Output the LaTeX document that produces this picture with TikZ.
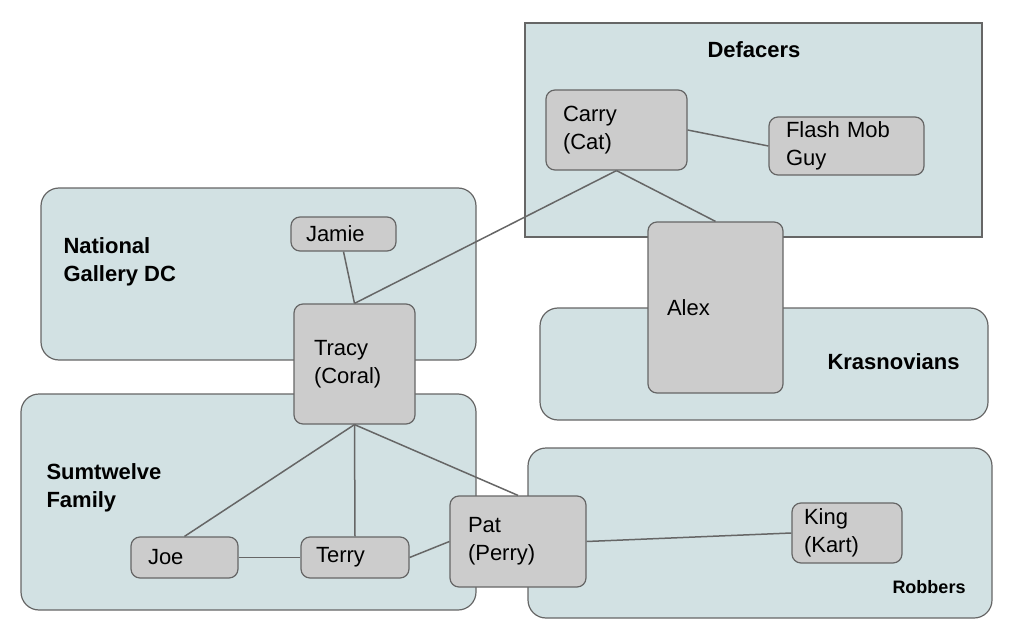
\documentclass[tikz,border=0pt]{standalone}
\usepackage{fontspec}
\setmainfont{Liberation Sans}
\begin{document}
\begin{tikzpicture}[x=1pt,y=-1pt,
  grp/.style={draw=black!60,fill={rgb,255:red,210;green,225;blue,227},line width=1.2pt,rounded corners=18pt},
  per/.style={draw=black!60,fill={rgb,255:red,204;green,204;blue,204},line width=1.2pt,rounded corners=9pt,
    align=left,inner ysep=0pt,font=\fontsize{22}{28}\selectfont},
  lab/.style={font=\fontsize{22}{28}\selectfont\bfseries,align=left},
  edge/.style={draw=black!60,line width=1.5pt}]
\useasboundingbox (0,0) rectangle (1021,642);
% groups
\node[grp,rounded corners=0pt,minimum width=457pt,minimum height=214pt,inner sep=0] (gdef) at (753.5,130) {};
\node[lab] (ldef) at (754,50) {Defacers};
\node[grp,minimum width=435pt,minimum height=172pt,inner sep=0] (gnat) at (258.5,274) {};
\node[lab,anchor=west] (lnat) at (60,262) {National\\Gallery DC};
\node[grp,minimum width=448pt,minimum height=112pt,inner sep=0] (gkra) at (764,364) {};
\node[lab,anchor=west] (lkra) at (824,362) {Krasnovians};
\node[grp,minimum width=455pt,minimum height=216pt,inner sep=0] (gsum) at (248.5,502) {};
\node[lab,anchor=west] (lsum) at (43,488) {Sumtwelve\\Family};
\node[grp,minimum width=464pt,minimum height=170pt,inner sep=0] (grob) at (760,533) {};
\node[font=\fontsize{18}{22}\selectfont\bfseries] (lrob) at (929,587) {Robbers};
% people
\node[per,text width=107pt,inner xsep=17pt,minimum height=80pt] (carry) at (616.5,130) {Carry\\(Cat)};
\node[per,text width=121pt,inner xsep=17pt,minimum height=58pt] (flash) at (846.5,146) {Flash Mob\\Guy};
\node[per,text width=75pt,inner xsep=15pt,minimum height=34pt] (jamie) at (343.5,234) {Jamie};
\node[per,text width=81pt,inner xsep=20pt,minimum height=120pt] (tracy) at (354.5,364) {Tracy\\(Coral)};
\node[per,text width=97pt,inner xsep=19pt,minimum height=171pt] (alex) at (715.5,307.5) {Alex};
\node[per,text width=73pt,inner xsep=17pt,minimum height=41pt] (joe) at (184.5,557.5) {Joe};
\node[per,text width=78pt,inner xsep=15pt,minimum height=41pt] (terry) at (355,557.5) {Terry};
\node[per,text width=100pt,inner xsep=18pt,minimum height=91pt] (pat) at (518,541.5) {Pat\\(Perry)};
\node[per,text width=86pt,inner xsep=12pt,minimum height=60pt] (king) at (847,533) {King\\(Kart)};
% edges
\draw[edge] (carry.east) -- (flash.west);
\draw[edge] (carry.south) -- (tracy.north);
\draw[edge] (carry.south) -- (alex.north);
\draw[edge] (jamie.south) -- (tracy.north);
\draw[edge] (tracy.south) -- (joe.north);
\draw[edge] (tracy.south) -- (terry.north);
\draw[edge] (tracy.south) -- (pat.north);
\draw[edge] (joe.east) -- (terry.west);
\draw[edge] (terry.east) -- (pat.west);
\draw[edge] (pat.east) -- (king.west);
\end{tikzpicture}
\end{document}
